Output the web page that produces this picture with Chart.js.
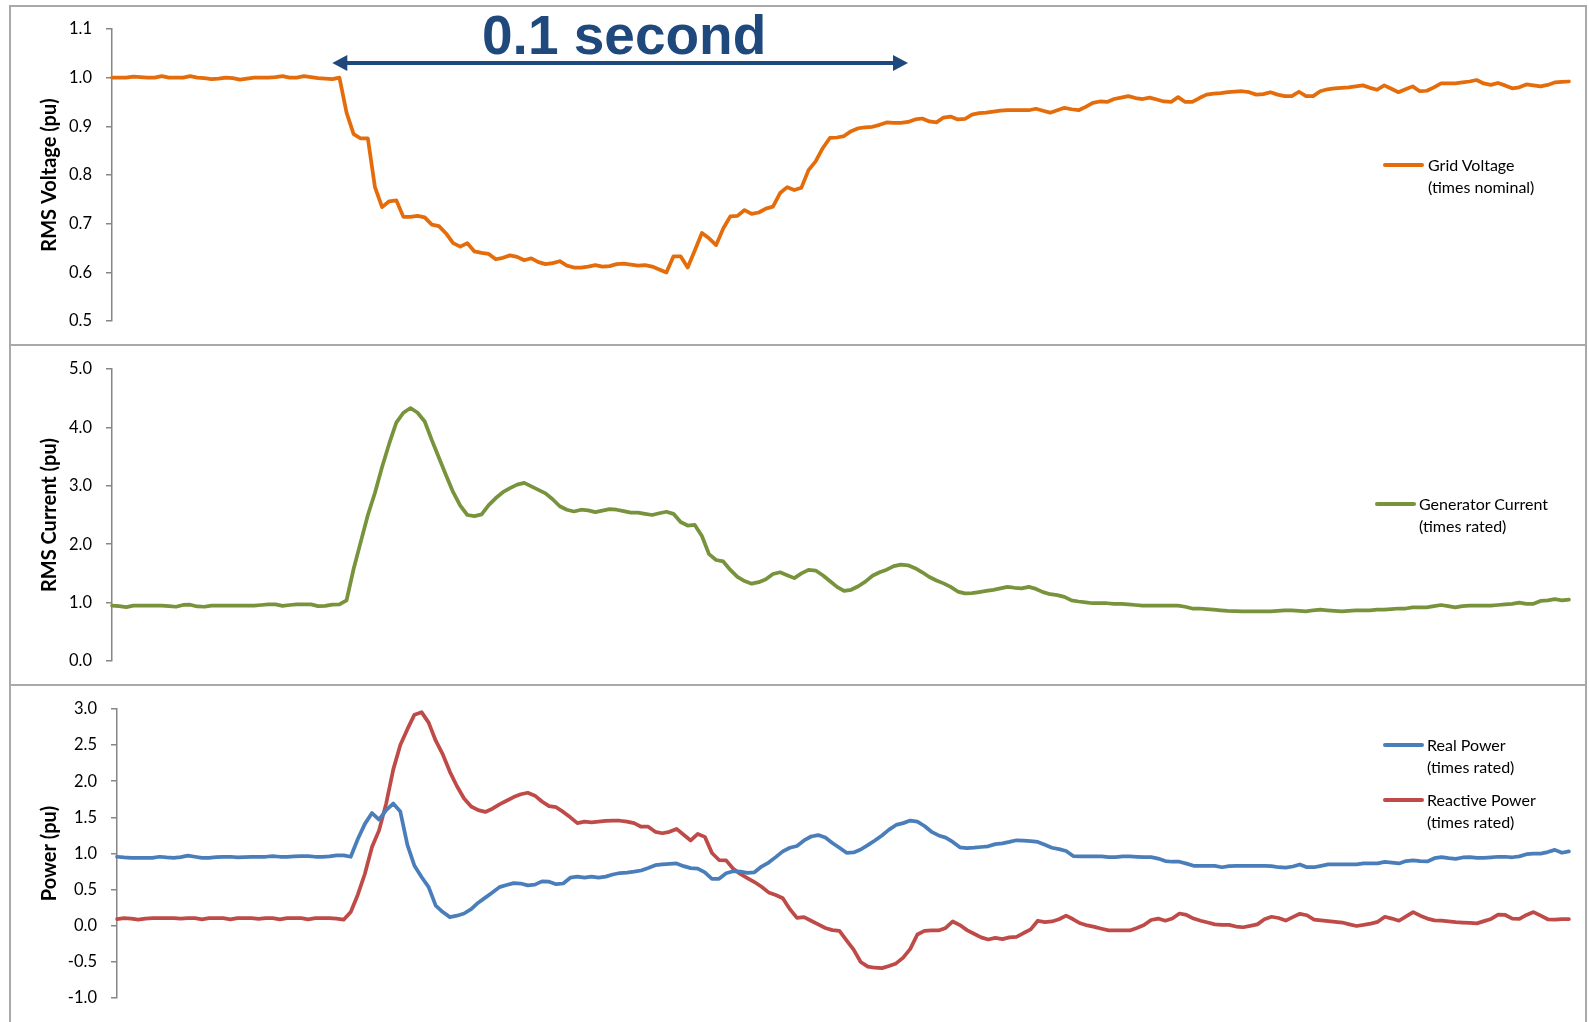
<!DOCTYPE html>
<html>
<head>
<meta charset="utf-8">
<title>Voltage dip ride-through</title>
<script src="https://cdn.jsdelivr.net/npm/chart.js@4.4.1/dist/chart.umd.min.js"></script>
<style>
  html, body { margin: 0; padding: 0; background: #fff; width: 1589px; height: 1022px; overflow: hidden; }
  .box { position: absolute; left: 9px; width: 1578px; border: 2px solid #a9a9a9; box-sizing: border-box; }
  canvas { position: absolute; left: 0; }
  .legend { position: absolute; font-family: Lato, sans-serif; font-size: 16px; line-height: 22px; color: #000; }
  .legend .swatch { position: absolute; left: 0; top: 9px; width: 41px; height: 4px; border-radius: 2px; }
  .legend .txt { position: absolute; white-space: nowrap; top: 0; }
  .span-label { position: absolute; top: 8px; left: 624px; transform: translateX(-50%);
    font-family: "Liberation Sans", Arial, sans-serif; font-weight: bold; font-size: 55px; line-height: 55px;
    color: #1F497D; white-space: nowrap; }
</style>
</head>
<body>
<div class="box" style="top:5px;height:341px"></div>
<div class="box" style="top:344px;height:342px"></div>
<div class="box" style="top:684px;height:400px"></div>

<canvas id="cVolt" width="1589" height="340" style="top:5px"></canvas>
<canvas id="cCurr" width="1589" height="340" style="top:345px"></canvas>
<canvas id="cPow" width="1589" height="337" style="top:685px"></canvas>

<div class="span-label" id="spanLabel"></div>

<script>
// ---- series (per-unit values, one per sample) ----
const gridVoltage = [
  1.000,1.000,1.000,1.002,1.001,1.000,1.000,1.003,1.000,1.000,
  1.000,1.003,1.000,0.999,0.997,0.998,1.000,0.999,0.996,0.998,
  1.000,1.000,1.000,1.001,1.003,1.000,1.000,1.003,1.001,0.999,
  0.998,0.997,1.000,0.928,0.884,0.875,0.875,0.775,0.734,0.746,
  0.748,0.714,0.714,0.716,0.713,0.698,0.695,0.680,0.660,0.653,
  0.660,0.643,0.640,0.638,0.627,0.630,0.635,0.632,0.625,0.629,
  0.621,0.617,0.619,0.623,0.614,0.610,0.610,0.612,0.615,0.612,
  0.613,0.617,0.618,0.616,0.614,0.615,0.612,0.606,0.600,0.633,
  0.633,0.610,0.645,0.681,0.670,0.656,0.690,0.715,0.716,0.728,
  0.720,0.723,0.731,0.735,0.763,0.775,0.769,0.774,0.810,0.828,
  0.855,0.876,0.877,0.880,0.890,0.896,0.898,0.899,0.903,0.908,
  0.907,0.907,0.909,0.914,0.916,0.910,0.908,0.918,0.920,0.914,
  0.915,0.924,0.927,0.928,0.930,0.932,0.933,0.933,0.933,0.933,
  0.936,0.932,0.928,0.933,0.938,0.935,0.933,0.940,0.948,0.951,
  0.950,0.956,0.959,0.962,0.958,0.956,0.959,0.955,0.951,0.950,
  0.960,0.950,0.950,0.958,0.965,0.967,0.968,0.970,0.971,0.972,
  0.970,0.965,0.966,0.970,0.965,0.962,0.962,0.971,0.962,0.962,
  0.972,0.976,0.978,0.979,0.980,0.982,0.984,0.979,0.975,0.984,
  0.977,0.970,0.976,0.982,0.972,0.973,0.980,0.988,0.988,0.988,
  0.990,0.992,0.995,0.988,0.985,0.989,0.984,0.978,0.980,0.986,
  0.984,0.982,0.985,0.990,0.991,0.992
];

const generatorCurrent = [
  0.95,0.94,0.925,0.95,0.95,0.95,0.95,0.95,0.94,0.93,
  0.96,0.965,0.935,0.93,0.95,0.95,0.95,0.95,0.95,0.95,
  0.95,0.96,0.97,0.97,0.945,0.96,0.97,0.97,0.97,0.94,
  0.945,0.965,0.97,1.04,1.58,2.04,2.50,2.88,3.32,3.72,
  4.08,4.25,4.33,4.25,4.10,3.78,3.48,3.18,2.89,2.66,
  2.50,2.48,2.51,2.67,2.79,2.89,2.96,3.02,3.05,2.99,
  2.93,2.87,2.77,2.65,2.59,2.56,2.59,2.58,2.55,2.575,
  2.60,2.59,2.565,2.54,2.54,2.52,2.50,2.53,2.555,2.52,
  2.38,2.32,2.33,2.14,1.83,1.73,1.705,1.56,1.44,1.37,
  1.325,1.35,1.40,1.49,1.52,1.47,1.42,1.50,1.56,1.55,
  1.47,1.37,1.27,1.20,1.22,1.28,1.36,1.46,1.52,1.565,
  1.625,1.65,1.64,1.59,1.52,1.44,1.38,1.33,1.27,1.19,
  1.16,1.162,1.18,1.20,1.22,1.245,1.27,1.255,1.245,1.27,
  1.235,1.18,1.145,1.13,1.10,1.04,1.02,1.005,0.99,0.99,
  0.99,0.98,0.98,0.97,0.96,0.95,0.95,0.95,0.95,0.95,
  0.95,0.93,0.90,0.90,0.89,0.88,0.87,0.86,0.855,0.85,
  0.85,0.85,0.85,0.85,0.86,0.87,0.87,0.86,0.85,0.87,
  0.88,0.87,0.86,0.85,0.86,0.87,0.87,0.87,0.88,0.88,
  0.89,0.90,0.90,0.92,0.92,0.92,0.94,0.96,0.94,0.92,
  0.94,0.95,0.95,0.95,0.95,0.96,0.97,0.98,1.00,0.98,
  0.98,1.03,1.04,1.06,1.04,1.05
];

const realPower = [
  0.955,0.945,0.94,0.94,0.94,0.94,0.955,0.945,0.94,0.95,
  0.97,0.955,0.94,0.94,0.95,0.955,0.955,0.945,0.95,0.955,
  0.955,0.955,0.965,0.955,0.955,0.96,0.965,0.965,0.955,0.955,
  0.96,0.975,0.975,0.955,1.20,1.41,1.56,1.47,1.60,1.69,
  1.58,1.12,0.83,0.675,0.535,0.28,0.19,0.12,0.14,0.17,
  0.23,0.32,0.39,0.46,0.535,0.565,0.59,0.585,0.56,0.57,
  0.615,0.61,0.575,0.585,0.665,0.68,0.665,0.68,0.665,0.68,
  0.71,0.73,0.737,0.748,0.765,0.80,0.838,0.85,0.857,0.862,
  0.825,0.797,0.79,0.74,0.65,0.65,0.726,0.755,0.75,0.732,
  0.74,0.82,0.875,0.95,1.03,1.08,1.104,1.18,1.235,1.255,
  1.22,1.145,1.08,1.01,1.015,1.055,1.115,1.18,1.25,1.33,
  1.395,1.42,1.455,1.44,1.38,1.30,1.25,1.22,1.16,1.085,
  1.073,1.08,1.09,1.10,1.13,1.14,1.16,1.183,1.178,1.172,
  1.16,1.12,1.08,1.06,1.035,0.965,0.96,0.96,0.96,0.96,
  0.95,0.95,0.96,0.96,0.955,0.95,0.95,0.93,0.895,0.886,
  0.886,0.86,0.83,0.828,0.828,0.828,0.81,0.826,0.828,0.828,
  0.828,0.828,0.828,0.825,0.81,0.806,0.82,0.848,0.81,0.81,
  0.83,0.85,0.85,0.85,0.85,0.85,0.864,0.864,0.864,0.885,
  0.875,0.862,0.895,0.905,0.895,0.89,0.935,0.95,0.935,0.925,
  0.945,0.95,0.94,0.94,0.948,0.955,0.955,0.948,0.96,0.99,
  0.998,0.998,1.02,1.05,1.01,1.03
];

const reactivePower = [
  0.093,0.105,0.10,0.085,0.10,0.105,0.105,0.105,0.105,0.10,
  0.105,0.105,0.09,0.105,0.105,0.105,0.09,0.105,0.105,0.105,
  0.095,0.105,0.105,0.09,0.105,0.105,0.105,0.09,0.105,0.105,
  0.105,0.10,0.085,0.19,0.43,0.72,1.09,1.32,1.69,2.16,
  2.50,2.72,2.92,2.955,2.81,2.56,2.37,2.13,1.93,1.76,
  1.65,1.60,1.575,1.62,1.68,1.73,1.78,1.82,1.84,1.80,
  1.72,1.655,1.64,1.575,1.50,1.42,1.44,1.43,1.44,1.45,
  1.453,1.453,1.44,1.42,1.37,1.37,1.30,1.28,1.30,1.34,
  1.26,1.18,1.27,1.23,1.007,0.91,0.905,0.79,0.717,0.66,
  0.605,0.54,0.462,0.427,0.382,0.23,0.11,0.12,0.07,0.02,
  -0.03,-0.06,-0.07,-0.20,-0.33,-0.50,-0.565,-0.58,-0.585,-0.555,
  -0.52,-0.44,-0.32,-0.12,-0.07,-0.064,-0.064,-0.03,0.06,0.01,
  -0.06,-0.11,-0.16,-0.19,-0.167,-0.185,-0.16,-0.153,-0.10,-0.05,
  0.07,0.05,0.06,0.09,0.14,0.09,0.035,0.005,-0.015,-0.04,
  -0.064,-0.064,-0.064,-0.064,-0.03,0.01,0.08,0.10,0.07,0.10,
  0.17,0.15,0.10,0.07,0.045,0.02,0.013,0.013,-0.01,-0.02,
  0.0,0.02,0.09,0.125,0.108,0.072,0.12,0.166,0.146,0.085,
  0.075,0.065,0.055,0.045,0.02,-0.003,0.012,0.03,0.055,0.125,
  0.10,0.07,0.13,0.19,0.14,0.10,0.075,0.07,0.06,0.05,
  0.045,0.04,0.034,0.065,0.095,0.155,0.15,0.10,0.095,0.15,
  0.19,0.14,0.09,0.085,0.093,0.093
];

// sample numbers along the time axis
const samples = gridVoltage.map((_, i) => i);

// y-axis tick values
const voltageTicks = [0.5, 0.6, 0.7, 0.8, 0.9, 1.0, 1.1];
const currentTicks = [0, 1, 2, 3, 4, 5];
const powerTicks = [-1.0, -0.5, 0, 0.5, 1.0, 1.5, 2.0, 2.5, 3.0];

// series names (two-line legend entries)
const voltageName = ['Grid Voltage', '(times nominal)'];
const currentName = ['Generator Current', '(times rated)'];
const realName = ['Real Power', '(times rated)'];
const reactiveName = ['Reactive Power', '(times rated)'];

// the 0.1 s window marked above the voltage trace (sample numbers)
const windowLabel = '0.1 second';
const windowFrom = 31;
const windowTo = 112;
const windowLevel = 1.03;

// ---- drawing ----
Chart.defaults.font.family = 'Lato, sans-serif';
Chart.defaults.color = '#000';

const COLORS = { volt: '#E46C0A', curr: '#77933C', real: '#4A7EBB', reac: '#BE4B48' };
const INK = '#1F497D';

function yAxis(min, max, ticks, title, width) {
  return {
    min, max,
    afterBuildTicks: s => { s.ticks = ticks.map(v => ({ value: v })); },
    afterFit: s => { s.width = width; },
    ticks: { callback: v => Number(v).toFixed(1), font: { size: 16.5 }, color: '#000', padding: 14 },
    grid: { drawOnChartArea: false, drawTicks: true, tickLength: 6, color: '#868686', lineWidth: 1.5 },
    border: { display: true, color: '#868686', width: 1.5 },
    title: { display: true, text: title, font: { size: 20, weight: 'bold' }, color: '#000',
             padding: { top: 38, bottom: 0 } }
  };
}

function line(name, data, color) {
  return {
    label: name.join(' '), data, borderColor: color, backgroundColor: color,
    borderWidth: 3.75, pointRadius: 0, tension: 0,
    borderJoinStyle: 'round', borderCapStyle: 'round', fill: false
  };
}

// double-headed arrow spanning a range of samples
const spanArrow = {
  id: 'spanArrow',
  afterDatasetsDraw(chart, args, opts) {
    if (!opts || opts.from == null) return;
    const { ctx, scales: { x, y } } = chart;
    const x1 = x.getPixelForValue(opts.from);
    const x2 = x.getPixelForValue(opts.to);
    const yy = y.getPixelForValue(opts.level);
    const head = 15, half = 8;
    ctx.save();
    ctx.strokeStyle = opts.color; ctx.fillStyle = opts.color; ctx.lineWidth = 4;
    ctx.beginPath(); ctx.moveTo(x1 + head - 1, yy); ctx.lineTo(x2 - head + 1, yy); ctx.stroke();
    ctx.beginPath(); ctx.moveTo(x1, yy); ctx.lineTo(x1 + head, yy - half); ctx.lineTo(x1 + head, yy + half); ctx.closePath(); ctx.fill();
    ctx.beginPath(); ctx.moveTo(x2, yy); ctx.lineTo(x2 - head, yy - half); ctx.lineTo(x2 - head, yy + half); ctx.closePath(); ctx.fill();
    ctx.restore();
    const lbl = document.getElementById('spanLabel');
    lbl.textContent = opts.text;
    lbl.style.left = (chart.canvas.offsetLeft + (x1 + x2) / 2 + 4) + 'px';
  }
};

function makeChart(id, datasets, y, padding, arrow) {
  return new Chart(document.getElementById(id), {
    type: 'line',
    data: { labels: samples, datasets },
    options: {
      responsive: false, animation: false, events: [],
      devicePixelRatio: 1,
      layout: { padding },
      scales: { x: { type: 'category', display: false, offset: false }, y },
      plugins: { legend: { display: false }, tooltip: { enabled: false }, spanArrow: arrow || {} }
    },
    plugins: [spanArrow]
  });
}

makeChart('cVolt', [line(voltageName, gridVoltage, COLORS.volt)],
  yAxis(0.5, 1.1, voltageTicks, 'RMS Voltage (pu)', 112),
  { left: 0, right: 20, top: 20, bottom: 22 },
  { from: windowFrom, to: windowTo, level: windowLevel, color: INK, text: windowLabel });

makeChart('cCurr', [line(currentName, generatorCurrent, COLORS.curr)],
  yAxis(0, 5, currentTicks, 'RMS Current (pu)', 112),
  { left: 0, right: 20, top: 20, bottom: 21.5 });

makeChart('cPow', [line(realName, realPower, COLORS.real), line(reactiveName, reactivePower, COLORS.reac)],
  yAxis(-1, 3, powerTicks, 'Power (pu)', 117),
  { left: 0, right: 20, top: 21, bottom: 17 });

// legends placed inside each plot, to the right
function legendEntry(name, color, lineLeft, textLeft, top) {
  const d = document.createElement('div');
  d.className = 'legend';
  d.style.left = lineLeft + 'px';
  d.style.top = top + 'px';
  const sw = document.createElement('span');
  sw.className = 'swatch'; sw.style.background = color;
  const t = document.createElement('div');
  t.className = 'txt'; t.style.left = (textLeft - lineLeft) + 'px';
  t.innerHTML = name.map(s => s.replace(/&/g, '&amp;')).join('<br>');
  d.appendChild(sw); d.appendChild(t);
  document.body.appendChild(d);
}
legendEntry(voltageName, COLORS.volt, 1383, 1428, 154);
legendEntry(currentName, COLORS.curr, 1375, 1419, 493);
legendEntry(realName, COLORS.real, 1383, 1427, 734);
legendEntry(reactiveName, COLORS.reac, 1383, 1427, 789);
</script>
</body>
</html>
